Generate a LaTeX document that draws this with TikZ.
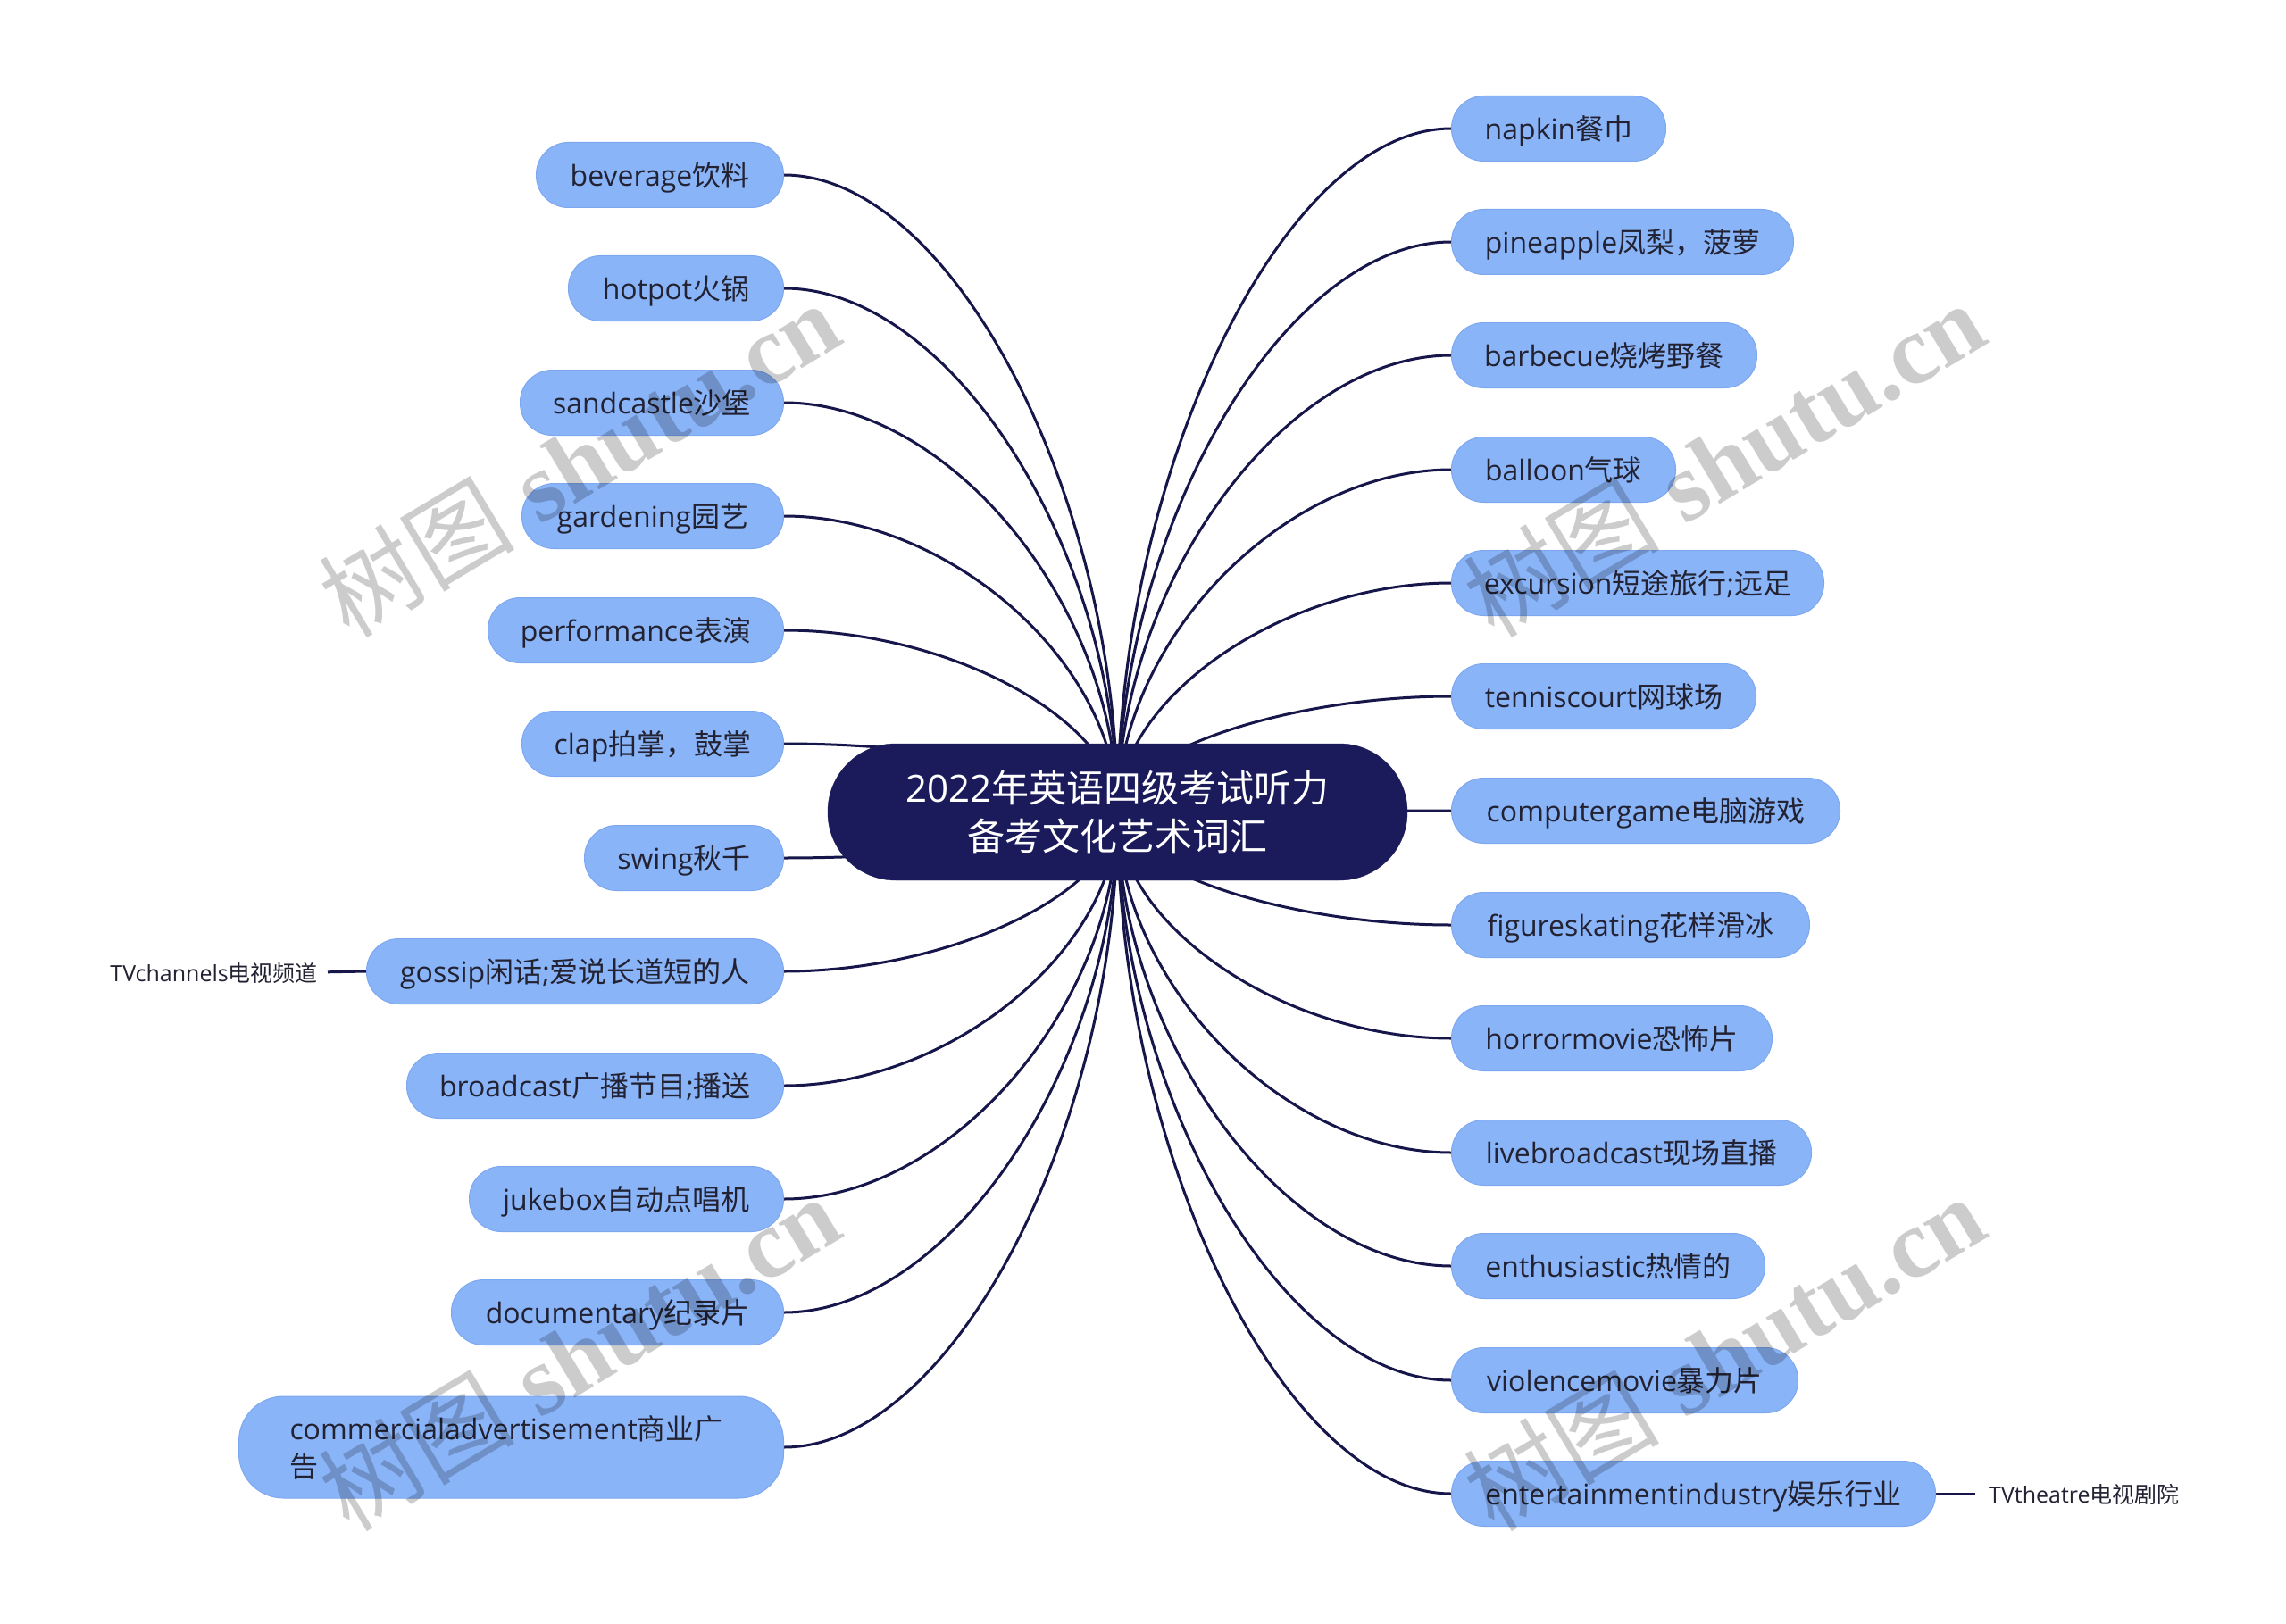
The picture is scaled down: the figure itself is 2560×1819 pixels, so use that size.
\documentclass[tikz,border=0pt]{standalone}
\usepackage{fontspec}
\setmainfont{Open Sans}
\newfontfamily\cjf{Noto Sans CJK SC}
\newfontfamily\wmserif{Liberation Serif}
\newcommand\zh[1]{{\cjf #1}}
\usetikzlibrary{calc}
\pgfdeclarelayer{bg}
\pgfsetlayers{bg,main}
\definecolor{nodefill}{HTML}{8AB4F8}
\definecolor{nodeedge}{HTML}{7DA8F0}
\definecolor{navy}{HTML}{1B1B5C}
\definecolor{linec}{HTML}{16164A}
\definecolor{txt}{HTML}{222233}
\tikzset{
  topic/.style={draw=nodeedge, line width=1pt, fill=nodefill, rounded corners=36pt,
    minimum height=73pt, inner sep=0pt, text=txt, font=\fontsize{32}{42}\selectfont,
    text height=29pt, text depth=4pt},
  bigtopic/.style={draw=nodeedge, line width=1pt, fill=nodefill, rounded corners=50pt,
    minimum height=114pt, inner sep=0pt, text=txt, font=\fontsize{32}{42}\selectfont, align=left},
  rootnode/.style={fill=navy, draw=navy, rounded corners=76pt, minimum width=649pt,
    minimum height=153pt, inner sep=0pt, text=white, font=\fontsize{42}{54}\selectfont, align=center},
  conn/.style={draw=linec, line width=3pt},
  leaf/.style={text=txt, font=\fontsize{25}{30}\selectfont, inner sep=0pt, text height=23pt, text depth=3pt},
  wm/.style={text=black, opacity=0.2, rotate=31, inner sep=0pt, font=\fontsize{110}{110}\selectfont}
}
\newcommand\linkto[1]{\draw[conn] let \p1=(root.center), \p2=(#1) in
  (\p1) .. controls (\x1,{0.5*\y1+0.5*\y2}) and ({0.5*\x1+0.5*\x2},\y2) .. (\p2);}
\begin{document}
\begin{tikzpicture}[x=1pt,y=-1pt]
\begin{pgfonlayer}{bg}
\path[fill=white] (0,0) rectangle (2560,1819);
\end{pgfonlayer}
\useasboundingbox (0,0) rectangle (2560,1819);
% root
\node[rootnode] (root) at (1251.5,909.5) {2022\zh{年英语四级考试听力}\\\zh{备考文化艺术词汇}};
% left topics
\node[topic, anchor=east, minimum width=277pt] (l1) at (878,196) {beverage\zh{饮料}};
\node[topic, anchor=east, minimum width=241pt] (l2) at (878,323) {hotpot\zh{火锅}};
\node[topic, anchor=east, minimum width=295pt] (l3) at (878,451) {sandcastle\zh{沙堡}};
\node[topic, anchor=east, minimum width=293pt] (l4) at (878,578) {gardening\zh{园艺}};
\node[topic, anchor=east, minimum width=331pt] (l5) at (878,706) {performance\zh{表演}};
\node[topic, anchor=east, minimum width=293pt] (l6) at (878,833) {clap\zh{拍掌，鼓掌}};
\node[topic, anchor=east, minimum width=223pt] (l7) at (878,961) {swing\zh{秋千}};
\node[topic, anchor=east, minimum width=467pt] (l8) at (878,1088) {gossip\zh{闲话};\zh{爱说长道短的人}};
\node[topic, anchor=east, minimum width=422pt] (l9) at (878,1216) {broadcast\zh{广播节目};\zh{播送}};
\node[topic, anchor=east, minimum width=352pt] (l10) at (878,1343) {jukebox\zh{自动点唱机}};
\node[topic, anchor=east, minimum width=372pt] (l11) at (878,1470) {documentary\zh{纪录片}};
\node[bigtopic, anchor=east, minimum width=610pt, text width=496pt] (l12) at (878,1621) {commercialadvertisement\zh{商业广}\\\zh{告}};
% right topics
\node[topic, anchor=west, minimum width=240pt] (r1) at (1625,144) {napkin\zh{餐巾}};
\node[topic, anchor=west, minimum width=383pt] (r2) at (1625,271) {pineapple\zh{凤梨，菠萝}};
\node[topic, anchor=west, minimum width=342pt] (r3) at (1625,398) {barbecue\zh{烧烤野餐}};
\node[topic, anchor=west, minimum width=251pt] (r4) at (1625,526) {balloon\zh{气球}};
\node[topic, anchor=west, minimum width=417pt] (r5) at (1625,653) {excursion\zh{短途旅行};\zh{远足}};
\node[topic, anchor=west, minimum width=341pt] (r6) at (1625,780) {tenniscourt\zh{网球场}};
\node[topic, anchor=west, minimum width=435pt] (r7) at (1625,908) {computergame\zh{电脑游戏}};
\node[topic, anchor=west, minimum width=401pt] (r8) at (1625,1036) {figureskating\zh{花样滑冰}};
\node[topic, anchor=west, minimum width=359pt] (r9) at (1625,1163) {horrormovie\zh{恐怖片}};
\node[topic, anchor=west, minimum width=403pt] (r10) at (1625,1291) {livebroadcast\zh{现场直播}};
\node[topic, anchor=west, minimum width=351pt] (r11) at (1625,1418) {enthusiastic\zh{热情的}};
\node[topic, anchor=west, minimum width=388pt] (r12) at (1625,1546) {violencemovie\zh{暴力片}};
\node[topic, anchor=west, minimum width=542pt] (r13) at (1625,1673) {entertainmentindustry\zh{娱乐行业}};
% leaves
\node[leaf, anchor=east] (tvc) at (356,1089) {TVchannels\zh{电视频道}};
\node[leaf, anchor=west] (tvt) at (2227,1673) {TVtheatre\zh{电视剧院}};
% connectors
\begin{pgfonlayer}{bg}
\foreach \nm in {l1,l2,l3,l4,l5,l6,l7,l8,l9,l10,l11,l12} {\linkto{\nm.east}}
\foreach \nm in {r1,r2,r3,r4,r5,r6,r7,r8,r9,r10,r11,r12,r13} {\linkto{\nm.west}}
\draw[conn, shorten <=11pt] (tvc.east) -- (l8.west);
\draw[conn, shorten >=15pt] (r13.east) -- (tvt.west);
\end{pgfonlayer}
% watermarks
\node[wm] (wm1) at (648,514) {\zh{树图} {\wmserif\bfseries shutu.cn}};
\node[wm] (wm2) at (1930,514) {\zh{树图} {\wmserif\bfseries shutu.cn}};
\node[wm] (wm3) at (648,1515) {\zh{树图} {\wmserif\bfseries shutu.cn}};
\node[wm] (wm4) at (1930,1515) {\zh{树图} {\wmserif\bfseries shutu.cn}};
\end{tikzpicture}
\end{document}
